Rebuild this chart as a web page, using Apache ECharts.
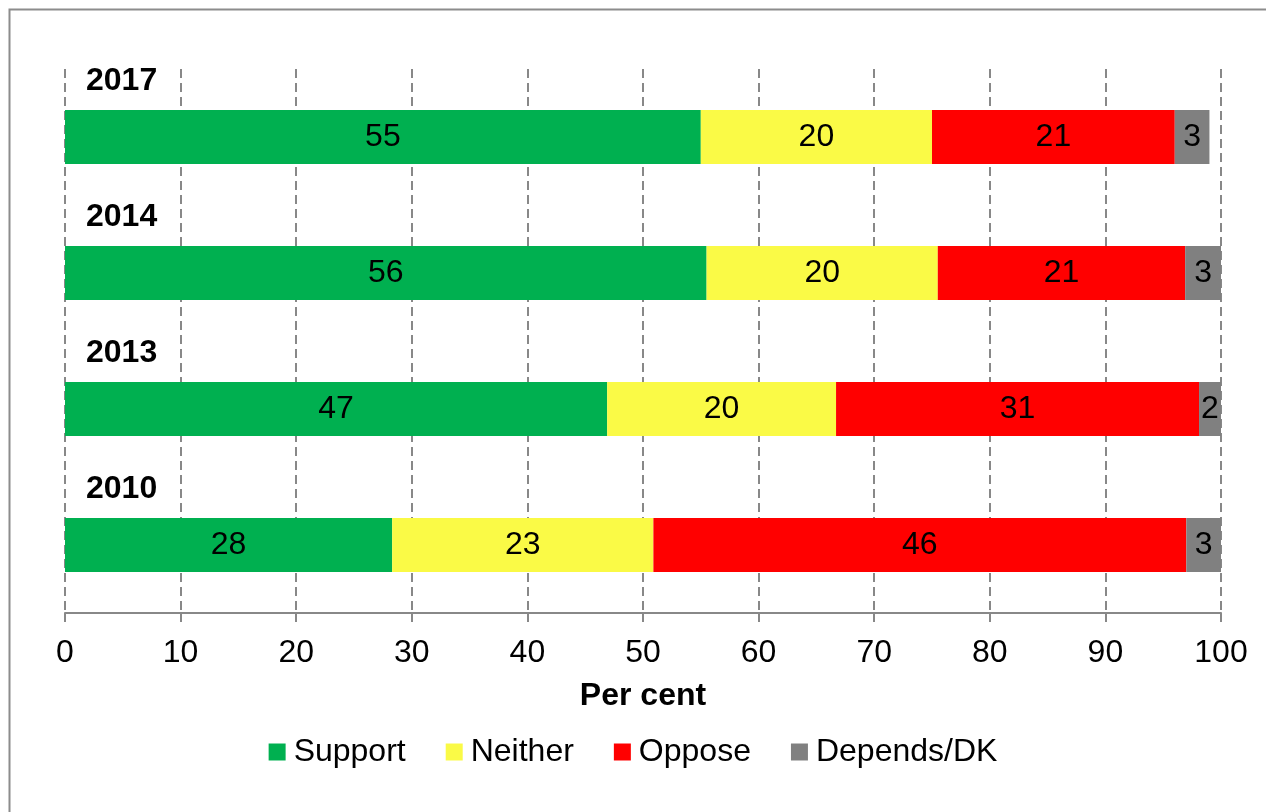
<!DOCTYPE html>
<html>
<head>
<meta charset="utf-8">
<script src="https://cdn.jsdelivr.net/npm/echarts@6/dist/echarts.min.js"></script>
<style>
html,body{margin:0;padding:0;background:#fff;}
#chart{width:1266px;height:812px;}
</style>
</head>
<body>
<div id="chart"></div>
<script>
const categories = ['2017', '2014', '2013', '2010'];
const support = [55, 55.5, 46.9, 28.3];
const neither = [20, 20, 19.8, 22.6];
const oppose = [21, 21.4, 31.4, 46.1];
const dependsDK = [3, 3.1, 1.9, 3.0];
const xTicks = [0, 10, 20, 30, 40, 50, 60, 70, 80, 90, 100];

const FONT = 'Liberation Sans, Arial, sans-serif';
const FS = 32;
const chart = echarts.init(document.getElementById('chart'));

function barSeries(name, data, color) {
  return {
    name: name,
    type: 'bar',
    stack: 'total',
    data: data,
    barWidth: 54,
    itemStyle: { color: color },
    label: {
      show: true,
      position: 'inside',
      color: '#000',
      fontFamily: FONT,
      fontSize: FS,
      formatter: p => Math.round(p.value)
    },
    emphasis: { disabled: true }
  };
}

chart.setOption({
  animation: false,
  backgroundColor: '#fff',
  graphic: [{
    type: 'rect',
    left: 7, top: 7,
    shape: { width: 1300, height: 900 },
    style: { fill: 'none', stroke: '#8c8c8c', lineWidth: 2 },
    z: -10, silent: true
  }],
  grid: { left: 65, right: 45, top: 69, bottom: 199 },
  legend: {
    bottom: 39,
    left: 'center',
    icon: 'rect',
    itemWidth: 17,
    itemHeight: 17,
    itemGap: 40,
    textStyle: { fontFamily: FONT, fontSize: FS, color: '#000', padding: [0, 0, 0, 3] },
    data: ['Support', 'Neither', 'Oppose', 'Depends/DK']
  },
  xAxis: {
    type: 'value',
    min: 0, max: 100, interval: 10,
    name: 'Per cent',
    nameLocation: 'middle',
    nameGap: 67,
    nameTextStyle: { fontFamily: FONT, fontSize: FS, fontWeight: 'bold', color: '#000' },
    axisLine: { show: true, lineStyle: { color: '#888', width: 2 } },
    axisTick: { show: true, length: 9, lineStyle: { color: '#888', width: 2 } },
    axisLabel: {
      margin: 24,
      fontFamily: FONT, fontSize: FS, color: '#000',
      formatter: v => xTicks.includes(v) ? String(v) : ''
    },
    splitLine: { show: true, lineStyle: { color: '#888', width: 2, type: [9, 5] } }
  },
  yAxis: {
    type: 'category',
    data: categories,
    inverse: true,
    axisLine: { show: false },
    axisTick: { show: false },
    axisLabel: { show: false },
    splitLine: { show: false }
  },
  series: [
    barSeries('Support', support, '#00B050'),
    barSeries('Neither', neither, '#FAFA46'),
    barSeries('Oppose', oppose, '#FF0000'),
    barSeries('Depends/DK', dependsDK, '#808080'),
    {
      type: 'scatter',
      data: categories.map(c => [0, c]),
      symbolSize: 0,
      silent: true,
      z: 10,
      itemStyle: { opacity: 1 },
      label: {
        show: true,
        position: 'right',
        distance: 0,
        offset: [21, -56],
        opacity: 1,
        fontFamily: FONT, fontSize: FS, fontWeight: 'bold', color: '#000',
        formatter: p => p.value[1]
      }
    }
  ]
});
</script>
</body>
</html>
